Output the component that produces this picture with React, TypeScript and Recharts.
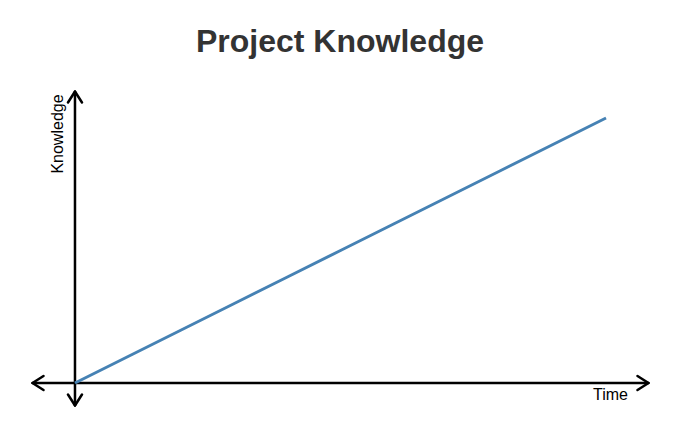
import { LineChart, Line, XAxis, YAxis, ReferenceLine } from "recharts";

// time steps and project knowledge
const time = [0, 1, 2, 3, 4, 5, 6, 7, 8, 9, 10];
const knowledge = [0, 1, 2, 3, 4, 5, 6, 7, 8, 9, 10];

const xDomain = [-0.8, 10.8];
const yDomain = [-0.85, 11];

const data = time.map((t, i) => ({ time: t, knowledge: knowledge[i] }));

const AxisArrow = (props: any) => {
  const { x1, y1, x2, y2 } = props;
  const dx = x2 - x1;
  const dy = y2 - y1;
  const len = Math.sqrt(dx * dx + dy * dy) || 1;
  const ux = dx / len;
  const uy = dy / len;
  const s = 11;
  const w = 7;
  const head = (px: number, py: number, dirx: number, diry: number) =>
    `M${px - dirx * s + -diry * w},${py - diry * s + dirx * w} L${px},${py} L${px - dirx * s - -diry * w},${py - diry * s - dirx * w}`;
  return (
    <g>
      <path
        d={`M${x1},${y1} L${x2},${y2}`}
        stroke="#000"
        strokeWidth={2.5}
        fill="none"
        strokeLinecap="round"
      />
      <path
        d={head(x2, y2, ux, uy) + " " + head(x1, y1, -ux, -uy)}
        stroke="#000"
        strokeWidth={2.5}
        fill="none"
        strokeLinecap="round"
        strokeLinejoin="round"
      />
    </g>
  );
};

function App() {
  return (
    <div style={{ position: "absolute", left: 0, top: 0, width: 698, height: 428, background: "#fff" }}>
      <LineChart
        width={698}
        height={428}
        data={data}
        margin={{ top: 91.5, right: 49.5, bottom: 22.5, left: 32.5 }}
      >
        <text
          x={340}
          y={52}
          textAnchor="middle"
          style={{ fontFamily: "Liberation Sans, Arial, sans-serif", fontWeight: "bold", fontSize: 32, fill: "#333" }}
        >
          Project Knowledge
        </text>
        <XAxis dataKey="time" type="number" domain={xDomain} hide />
        <YAxis type="number" domain={yDomain} hide />
        <ReferenceLine
          segment={[{ x: xDomain[0], y: 0 }, { x: xDomain[1], y: 0 }]}
          ifOverflow="visible"
          shape={AxisArrow}
        />
        <ReferenceLine
          segment={[{ x: 0, y: yDomain[0] }, { x: 0, y: yDomain[1] }]}
          ifOverflow="visible"
          shape={AxisArrow}
        />
        <text
          x={628}
          y={400}
          textAnchor="end"
          style={{ fontFamily: "Liberation Sans, Arial, sans-serif", fontSize: 16, fill: "#000" }}
        >
          Time
        </text>
        <text
          x={63}
          y={134}
          textAnchor="middle"
          transform="rotate(-90, 63, 134)"
          style={{ fontFamily: "Liberation Sans, Arial, sans-serif", fontSize: 16, fill: "#000" }}
        >
          Knowledge
        </text>
        <Line
          type="linear"
          dataKey="knowledge"
          stroke="#4682b4"
          strokeWidth={3}
          dot={false}
          isAnimationActive={false}
        />
      </LineChart>
    </div>
  );
}

export default App;
